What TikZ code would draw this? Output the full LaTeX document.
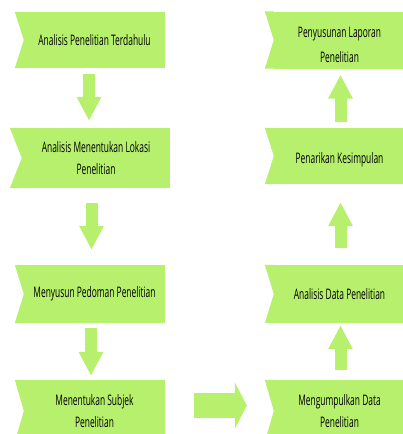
\documentclass[tikz,border=0pt]{standalone}
\usepackage{fontspec}
\setmainfont{Open Sans}[FakeStretch=0.58]
\usetikzlibrary{arrows.meta}
\definecolor{lg}{HTML}{B6F06C}
\tikzset{
  stage/.style={fill=lg, inner sep=0pt, align=center,
    font=\fontsize{14.5}{22}\selectfont, text=black},
  flow/.style={draw=lg, line width=12pt, -{Triangle[width=23pt,length=24pt]}},
  bigflow/.style={draw=lg, line width=25pt, -{Triangle[width=46pt,length=12pt]}},
}
\newcommand\notchfill[2]{%
  \fill[lg] (#1.north west) -- ++(-#2,0) -- (#1.west) -- cycle;
  \fill[lg] (#1.south west) -- ++(-#2,0) -- (#1.west) -- cycle;}
\begin{document}
\begin{tikzpicture}[x=1pt,y=-1pt]
\useasboundingbox (0,0) rectangle (403,434);
% left column
\node[stage, minimum width=141pt, minimum height=56pt] (s1) at (94.5,40) {Analisis Penelitian Terdahulu};
\node[stage, minimum width=148pt, minimum height=60pt] (s2) at (96,158) {Analisis Menentukan Lokasi\\Penelitian};
\node[stage, minimum width=141pt, minimum height=58pt] (s3) at (94.5,294) {Menyusun Pedoman Penelitian};
\node[stage, minimum width=141pt, minimum height=62pt] (s4) at (94.5,411) {Menentukan Subjek\\Penelitian};
% right column
\node[stage, minimum width=131pt, minimum height=57pt] (r1) at (339.5,40) {\rule{0pt}{21pt}Penyusunan Laporan\\[3pt]Penelitian};
\node[stage, minimum width=131pt, minimum height=56pt] (r2) at (339.5,156) {\rule{0pt}{19pt}Penarikan Kesimpulan};
\node[stage, minimum width=131pt, minimum height=58pt] (r3) at (339.5,294) {Analisis Data Penelitian};
\node[stage, minimum width=131pt, minimum height=62pt] (r4) at (339.5,411) {Mengumpulkan Data\\Penelitian};
\notchfill{s1}{9}
\notchfill{s2}{12}
\notchfill{s3}{9}
\notchfill{s4}{9}
\notchfill{r1}{9}
\notchfill{r2}{9}
\notchfill{r3}{9}
\notchfill{r4}{9}
% arrows
\draw[flow, shorten <=6pt, shorten >=7pt] ([xshift=-5.5pt]s1.south) -- ([xshift=-5.5pt]s1.south |- s2.north);
\draw[flow, shorten <=15pt, shorten >=15pt] ([xshift=-4.5pt]s2.south) -- ([xshift=-4.5pt]s2.south |- s3.north);
\draw[flow, shorten <=5pt, shorten >=4pt] ([xshift=-3.5pt]s3.south) -- ([xshift=-3.5pt]s3.south |- s4.north);
\draw[bigflow, shorten <=29pt, shorten >=27pt] ([yshift=5.5pt]s4.east) -- ([yshift=5.5pt]s4.east -| r4.west);
\draw[flow, shorten <=10pt, shorten >=2pt] ([xshift=1pt]r4.north) -- ([xshift=1pt]r4.north |- r3.south);
\draw[flow, shorten <=17pt, shorten >=18pt] ([xshift=1pt]r3.north) -- ([xshift=1pt]r3.north |- r2.south);
\draw[flow, shorten <=6pt, shorten >=6pt] ([xshift=1pt]r2.north) -- ([xshift=1pt]r2.north |- r1.south);
\end{tikzpicture}
\end{document}
